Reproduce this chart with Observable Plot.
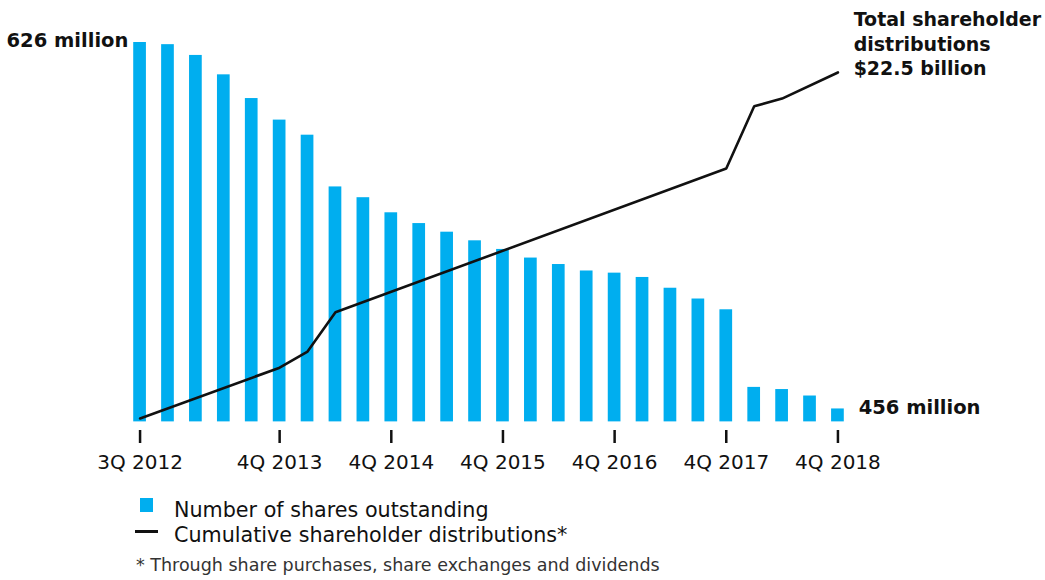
<!DOCTYPE html>
<html>
<head>
<meta charset="utf-8">
<script src="https://cdn.jsdelivr.net/npm/d3@7"></script>
<script src="https://cdn.jsdelivr.net/npm/@observablehq/plot@0.6"></script>
<style>
  html, body { margin: 0; padding: 0; background: #fff; }
  #wrap { position: relative; width: 1045px; height: 580px; font-family: "DejaVu Sans", sans-serif; color: #111; }
  #chart svg { overflow: visible; }
  .leg { position: absolute; font-size: 20.7px; line-height: 1; white-space: nowrap; }
  .sw { position: absolute; }
  #note { position: absolute; left: 136px; top: 557px; font-size: 17.5px; line-height: 1; color: #333; white-space: nowrap; }
</style>
</head>
<body>
<div id="wrap">
  <div id="chart"></div>
  <div class="sw" style="left:140px;top:498px;width:13px;height:14px;background:#00aeef"></div>
  <div class="leg" style="left:174px;top:500px">Number of shares outstanding</div>
  <div class="sw" style="left:135px;top:530px;width:23px;height:3px;background:#111"></div>
  <div class="leg" style="left:174px;top:525px">Cumulative shareholder distributions*</div>
  <div id="note">* Through share purchases, share exchanges and dividends</div>
</div>
<script>
const quarters = [
  "3Q 2012","4Q 2012",
  "1Q 2013","2Q 2013","3Q 2013","4Q 2013",
  "1Q 2014","2Q 2014","3Q 2014","4Q 2014",
  "1Q 2015","2Q 2015","3Q 2015","4Q 2015",
  "1Q 2016","2Q 2016","3Q 2016","4Q 2016",
  "1Q 2017","2Q 2017","3Q 2017","4Q 2017",
  "1Q 2018","2Q 2018","3Q 2018","4Q 2018"
];
// Number of shares outstanding (millions)
const sharesMillions = [626, 625, 620, 611, 600, 590, 583, 559, 554, 547, 542, 538, 534, 530, 526, 523, 520, 519, 517, 512, 507, 502, 466, 465, 462, 456];
// Cumulative shareholder distributions (billions $), at the quarters where the line bends
const distQuarters = ["3Q 2012", "4Q 2013", "1Q 2014", "2Q 2014", "4Q 2017", "1Q 2018", "2Q 2018", "4Q 2018"];
const distBillions = [0, 3.3, 4.35, 6.9, 16.25, 20.3, 20.8, 22.5];
const tickLabels = ["3Q 2012", "4Q 2013", "4Q 2014", "4Q 2015", "4Q 2016", "4Q 2017", "4Q 2018"];

const barBase = 450;
const shareDomain = [446, 626];
// secondary axis: billions mapped onto the shares scale
const dist2shares = d3.scaleLinear([0, 22.5], [451.6, 612.1]);

const bars = quarters.map((q, i) => ({q, v: sharesMillions[i]}));
const line = distQuarters.map((q, i) => ({q, b: distBillions[i], v: dist2shares(distBillions[i])}));
const first = bars[0], last = bars[bars.length - 1], lineEnd = line[line.length - 1];

const chart = Plot.plot({
  width: 1045,
  height: 480,
  marginTop: 42,
  marginBottom: 50,
  marginLeft: 118,
  marginRight: 186,
  style: {fontFamily: "DejaVu Sans, sans-serif", color: "#111", background: "transparent"},
  x: {type: "band", domain: quarters, padding: 0.545, round: false, axis: null},
  y: {domain: shareDomain, axis: null},
  marks: [
    Plot.barY(bars, {x: "q", y1: barBase, y2: "v", fill: "#00aeef"}),
    Plot.line(line, {x: "q", y: "v", stroke: "#111", strokeWidth: 2.6, strokeLinejoin: "miter"}),
    Plot.axisX({ticks: tickLabels, label: null, tickSize: 13, tickPadding: 11, fontSize: 20, strokeWidth: 2.5, stroke: "#111", fill: "#111"}),
    Plot.text([first], {x: "q", y: "v", text: d => `${d.v} million`, textAnchor: "end", lineAnchor: "bottom", dx: -11.7, dy: 4.7, fontSize: 19.5, fontWeight: "bold", fill: "#111"}),
    Plot.text([last], {x: "q", y: "v", text: d => `${d.v} million`, textAnchor: "start", lineAnchor: "bottom", dx: 20.7, dy: 4.7, fontSize: 19.5, fontWeight: "bold", fill: "#111"}),
    Plot.text([lineEnd], {x: "q", y: "v", text: d => `Total shareholder\ndistributions\n$${d.b} billion`, textAnchor: "start", lineAnchor: "bottom", lineHeight: 1.3, dx: 15.7, dy: 3, fontSize: 19, fontWeight: "bold", fill: "#111"})
  ]
});
document.getElementById("chart").appendChild(chart);
</script>
</body>
</html>
